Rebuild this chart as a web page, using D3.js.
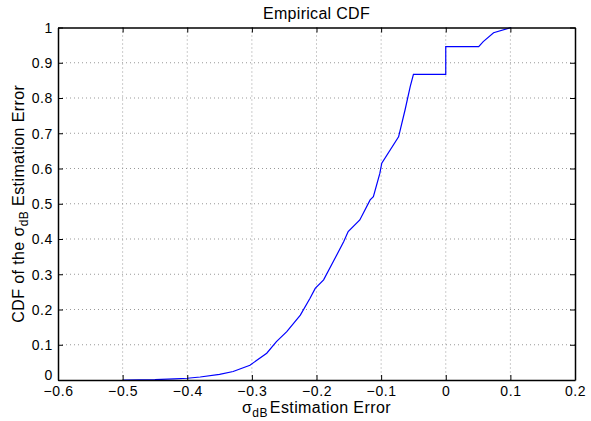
<!DOCTYPE html>
<html>
<head>
<meta charset="utf-8">
<script src="https://cdn.jsdelivr.net/npm/d3@7"></script>
<style>
  body { margin: 0; background: #fff; }
  text { font-family: "Liberation Sans", Arial, sans-serif; fill: #000; }
</style>
</head>
<body>
<div id="chart"></div>
<script>
// Estimation error values (x) and cumulative probability (y)
const errX = [-0.5, -0.45, -0.42, -0.4, -0.38, -0.35, -0.329, -0.303, -0.277, -0.262, -0.246,
  -0.225, -0.21, -0.202, -0.189, -0.174, -0.158, -0.151, -0.133, -0.117, -0.112, -0.102,
  -0.099, -0.073, -0.063, -0.055, -0.05, 0.0, 0.0, 0.051, 0.058, 0.074, 0.101];
const cdfY = [0, 0.001, 0.003, 0.005, 0.0085, 0.016, 0.024, 0.042, 0.076, 0.109, 0.137,
  0.184, 0.232, 0.26, 0.284, 0.336, 0.392, 0.421, 0.454, 0.511, 0.52, 0.586,
  0.615, 0.69, 0.766, 0.832, 0.867, 0.867, 0.946, 0.946, 0.96, 0.985, 1.0];

const xTicks = [-0.6, -0.5, -0.4, -0.3, -0.2, -0.1, 0, 0.1, 0.2];
const yTicks = [0, 0.1, 0.2, 0.3, 0.4, 0.5, 0.6, 0.7, 0.8, 0.9, 1];

const W = 591, H = 421;
const margin = { top: 27.5, right: 16, bottom: 41, left: 58 };
const width = W - margin.left - margin.right;
const height = H - margin.top - margin.bottom;

const svg = d3.select("#chart").append("svg")
  .attr("width", W).attr("height", H);
const g = svg.append("g")
  .attr("transform", `translate(${margin.left},${margin.top})`);

const x = d3.scaleLinear().domain([-0.6, 0.2]).range([0, width]);
const y = d3.scaleLinear().domain([0, 1]).range([height, 0]);

const fmt = d => d === 0 ? "0" : d === 1 ? "1" : d3.format(".1f")(d).replace("-", "\u2212");

// Grid
g.append("g").selectAll("line").data(xTicks.slice(1, -1)).enter().append("line")
  .attr("x1", d => x(d)).attr("x2", d => x(d)).attr("y1", 0).attr("y2", height)
  .attr("stroke", "#999").attr("stroke-width", 1).attr("stroke-dasharray", "1,3");
g.append("g").selectAll("line").data(yTicks.slice(1, -1)).enter().append("line")
  .attr("x1", 0).attr("x2", width).attr("y1", d => y(d)).attr("y2", d => y(d))
  .attr("stroke", "#999").attr("stroke-width", 1).attr("stroke-dasharray", "1,3");

// Curve
const line = d3.line().x((d, i) => x(errX[i])).y(d => y(d));
g.append("path").datum(cdfY)
  .attr("d", line)
  .attr("fill", "none")
  .attr("stroke", "#0000ff")
  .attr("stroke-width", 1.2);

// Axes (ticks inside, box all around)
const axB = g.append("g").attr("transform", `translate(0,${height})`)
  .call(d3.axisBottom(x).tickValues(xTicks).tickSizeInner(-5).tickSizeOuter(0).tickPadding(6).tickFormat(fmt));
const axL = g.append("g")
  .call(d3.axisLeft(y).tickValues(yTicks).tickSizeInner(-5).tickSizeOuter(0).tickPadding(5).tickFormat(fmt));
const axT = g.append("g")
  .call(d3.axisTop(x).tickValues(xTicks).tickSizeInner(-5).tickSizeOuter(0).tickFormat(""));
const axR = g.append("g").attr("transform", `translate(${width},0)`)
  .call(d3.axisRight(y).tickValues(yTicks).tickSizeInner(-5).tickSizeOuter(0).tickFormat(""));

[axB, axL, axT, axR].forEach(a => {
  a.selectAll("path").attr("stroke", "#000").attr("stroke-width", 1.5);
  a.selectAll("line").attr("stroke", "#000");
  a.selectAll("text").style("font-size", "14px").style("letter-spacing", "0.6px")
    .style("font-family", "'Liberation Sans', Arial, sans-serif");
});
axL.selectAll("text").attr("dy", "0.35em");
// the "0" label sits a little higher, clear of the x tick labels
axL.selectAll("text").filter(d => d === 0).attr("dy", "-0.05em");

// Title
svg.append("text")
  .attr("x", margin.left + width / 2).attr("y", 19)
  .attr("text-anchor", "middle")
  .style("font-size", "16px").style("letter-spacing", "0.3px")
  .text("Empirical CDF");

// X label
const xl = svg.append("text")
  .attr("x", margin.left + width / 2).attr("y", 413)
  .attr("text-anchor", "middle")
  .style("font-size", "16px").style("letter-spacing", "0.4px");
xl.append("tspan").text("\u03c3");
xl.append("tspan").attr("dy", 4).style("font-size", "12px").text("dB");
xl.append("tspan").attr("dy", -4).attr("dx", 2).text("Estimation Error");

// Y label
const yl = svg.append("text")
  .attr("transform", `translate(24,${margin.top + height / 2}) rotate(-90)`)
  .attr("text-anchor", "middle")
  .style("font-size", "16px").style("letter-spacing", "0.4px");
yl.append("tspan").text("CDF of the \u03c3");
yl.append("tspan").attr("dy", 4).style("font-size", "12px").text("dB");
yl.append("tspan").attr("dy", -4).text(" Estimation Error");
</script>
</body>
</html>
